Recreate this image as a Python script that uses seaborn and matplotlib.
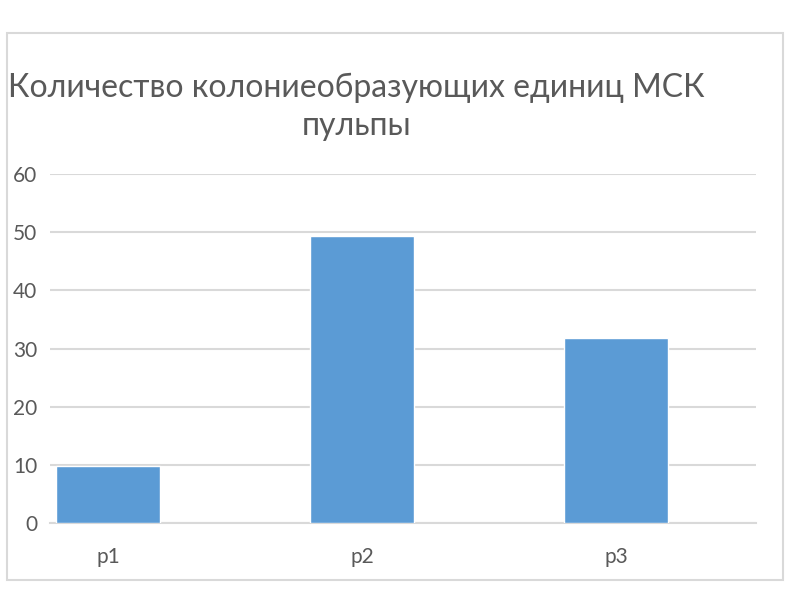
import matplotlib
matplotlib.use("Agg")
import matplotlib.pyplot as plt
import seaborn as sns
import pandas as pd
from matplotlib.patches import Rectangle

# values
categories = ["p1", "p2", "p3"]
values = [9.8, 49.4, 31.9]
title = "Количество колониеобразующих единиц МСК\nпульпы"

text_color = "#595959"
grid_color = "#d9d9d9"
bar_color = "#5b9bd5"

sns.set_theme(style="white")
plt.rcParams["font.family"] = ["Lato", "DejaVu Sans"]

df = pd.DataFrame({"group": categories, "value": values})

fig = plt.figure(figsize=(8, 6), dpi=100)
ax = fig.add_axes([0.0625, 0.128, 0.882, 0.582])

sns.barplot(data=df, x="group", y="value", color=bar_color, saturation=1,
            width=0.41, ax=ax, zorder=3)

ax.set_ylim(0, 60)
ax.set_xlim(-0.23, 2.55)
ax.set_yticks(range(0, 61, 10))
ax.yaxis.grid(True, color=grid_color, linewidth=1.5, zorder=0)
ax.set_xlabel("")
ax.set_ylabel("")
for side in ["top", "right", "left"]:
    ax.spines[side].set_visible(False)
ax.spines["bottom"].set_color(grid_color)
ax.spines["bottom"].set_linewidth(1.5)
ax.tick_params(axis="y", length=0, labelsize=15, labelcolor=text_color, pad=9)
ax.tick_params(axis="x", length=0, labelsize=15, labelcolor=text_color, pad=17)

fig.text(0.446, 0.822, title, ha="center", va="center", fontsize=23,
         color=text_color, linespacing=1.35)

# outer chart border
fig.patches.append(Rectangle((0.009, 0.033), 0.97, 0.912, transform=fig.transFigure,
                             fill=False, edgecolor=grid_color, linewidth=1.5))

fig.savefig("out.png", dpi=100)
